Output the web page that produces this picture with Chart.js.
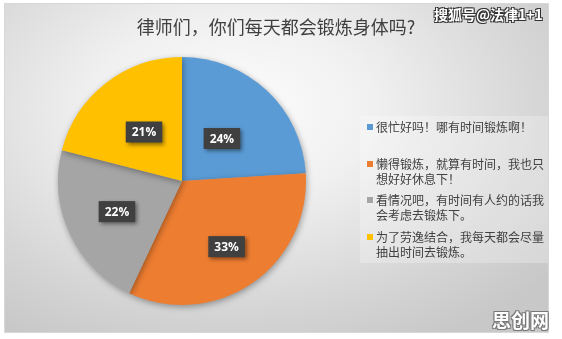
<!DOCTYPE html>
<html>
<head>
<meta charset="utf-8">
<script src="https://cdn.jsdelivr.net/npm/chart.js@4/dist/chart.umd.min.js"></script>
<style>
  html, body { margin: 0; padding: 0; background: #fff; }
  body { width: 562px; height: 339px; position: relative; overflow: hidden;
         font-family: "Noto Sans CJK SC", "Noto Sans", sans-serif; }
  #panel { position: absolute; left: 4px; top: 3px; width: 545px; height: 330px;
           background: radial-gradient(ellipse 75% 80% at 42% 32%, #fdfdfd 0%, #f0f0f0 35%, #d6d6d6 75%, #c8c8c8 100%);
           border: 1px solid #d8d8d8; box-sizing: border-box; }
  #chartBox { position: absolute; left: 0; top: 0; width: 562px; height: 339px; }
  #title { position: absolute; left: 0; width: 552px; top: 14px; text-align: center;
           font-size: 18px; color: #404040; line-height: 24px; }
  #legend { position: absolute; left: 360px; top: 116px; width: 188px; height: 147px;
            background: rgba(255,255,255,0.25); box-sizing: border-box; padding: 3px 4px 0 7px; }
  .item { position: relative; height: 36.5px; font-size: 12px; line-height: 15px; color: #404040;
          padding-left: 9px; }
  .item .sw { position: absolute; left: 0; top: 5px; width: 6px; height: 6px; }
  .wm { position: absolute; color: #fff; font-weight: bold;
        text-shadow: -1px -1px 0 #333, 1px -1px 0 #333, -1px 1px 0 #333, 1px 1px 0 #333; }
</style>
</head>
<body>
<div id="panel"></div>
<div id="chartBox"><canvas id="myChart" width="562" height="339"></canvas></div>
<div id="title"></div>
<div id="legend"></div>
<div class="wm" style="left:434px; top:4px; font-size:14px;">搜狐号@法律1+1</div>
<div class="wm" style="left:492px; top:306px; font-size:19px; text-shadow:-1px -1px 0 #777,1px -1px 0 #777,-1px 1px 0 #777,1px 1px 0 #777;">思创网</div>
<script>
const title = '律师们，你们每天都会锻炼身体吗?';
const labels = [
  ['很忙好吗！哪有时间锻炼啊！'],
  ['懒得锻炼，就算有时间，我也只', '想好好休息下！'],
  ['看情况吧，有时间有人约的话我', '会考虑去锻炼下。'],
  ['为了劳逸结合，我每天都会尽量', '抽出时间去锻炼。']
];
const values = [24, 33, 22, 21];
const colors = ['#5B9BD5', '#ED7D31', '#A5A5A5', '#FFC000'];

document.getElementById('title').textContent = title;

const legend = document.getElementById('legend');
labels.forEach((lines, i) => {
  const d = document.createElement('div');
  d.className = 'item';
  d.innerHTML = '<span class="sw" style="background:' + colors[i] + '"></span>' + lines.join('<br>');
  legend.appendChild(d);
});

// slice shadow
const shadowPlugin = {
  id: 'shadow',
  beforeDatasetDraw(chart) {
    const c = chart.ctx;
    c.save();
    c.shadowColor = 'rgba(0,0,0,0.35)';
    c.shadowBlur = 6;
    c.shadowOffsetX = 1;
    c.shadowOffsetY = 2;
  },
  afterDatasetDraw(chart) {
    chart.ctx.restore();
  }
};

// dark boxed percent labels
const pctLabels = {
  id: 'pctLabels',
  afterDatasetsDraw(chart, args, opts) {
    const c = chart.ctx;
    const meta = chart.getDatasetMeta(0);
    const total = values.reduce((a, b) => a + b, 0);
    meta.data.forEach((arc, i) => {
      const mid = (arc.startAngle + arc.endAngle) / 2;
      const r = arc.outerRadius * opts.dist[i];
      const x = arc.x + Math.cos(mid) * r;
      const y = arc.y + Math.sin(mid) * r;
      const txt = Math.round(values[i] / total * 100) + '%';
      c.save();
      c.font = 'bold 12px "Open Sans", "DejaVu Sans", sans-serif';
      const w = c.measureText(txt).width + 12;
      const h = 21;
      c.shadowColor = 'rgba(0,0,0,0.45)';
      c.shadowBlur = 4;
      c.shadowOffsetX = 2;
      c.shadowOffsetY = 2;
      c.fillStyle = '#404040';
      c.fillRect(x - w / 2, y - h / 2, w, h);
      c.shadowColor = 'transparent';
      c.fillStyle = '#ffffff';
      c.textAlign = 'center';
      c.textBaseline = 'middle';
      c.fillText(txt, x, y + 1);
      c.restore();
    });
  }
};

const ctx = document.getElementById('myChart').getContext('2d');
const myChart = new Chart(ctx, {
  type: 'pie',
  data: {
    labels: labels.map(l => l.join('')),
    datasets: [{
      data: values,
      backgroundColor: colors,
      borderWidth: 0
    }]
  },
  options: {
    responsive: false,
    animation: false,
    layout: { padding: { left: 58, top: 57, right: 256, bottom: 34 } },
    plugins: {
      legend: { display: false },
      tooltip: { enabled: false },
      pctLabels: { dist: [0.47, 0.64, 0.58, 0.5] }
    }
  },
  plugins: [shadowPlugin, pctLabels]
});
</script>
</body>
</html>
